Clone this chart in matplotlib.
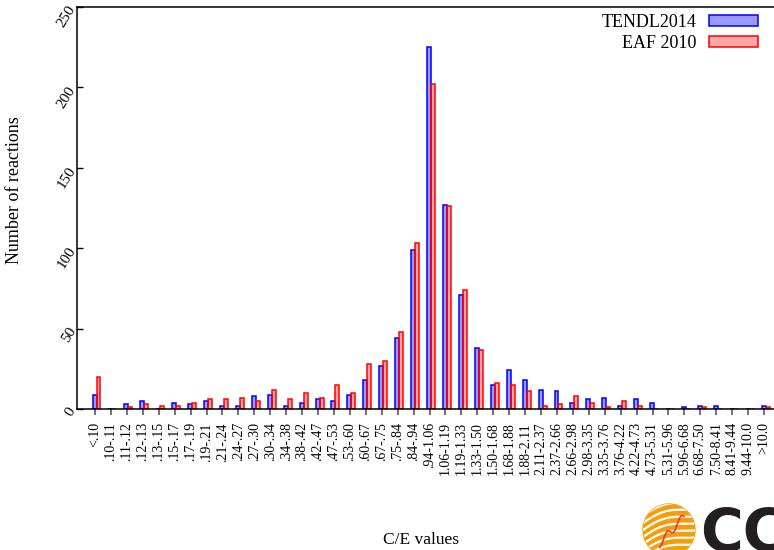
import matplotlib.pyplot as plt
import numpy as np
from matplotlib.patches import Circle

plt.rcParams['font.family'] = ['Liberation Serif', 'DejaVu Serif']

bins = ['<.10', '.10-.11', '.11-.12', '.12-.13', '.13-.15', '.15-.17', '.17-.19',
        '.19-.21', '.21-.24', '.24-.27', '.27-.30', '.30-.34', '.34-.38', '.38-.42',
        '.42-.47', '.47-.53', '.53-.60', '.60-.67', '.67-.75', '.75-.84', '.84-.94',
        '.94-1.06', '1.06-1.19', '1.19-1.33', '1.33-1.50', '1.50-1.68', '1.68-1.88',
        '1.88-2.11', '2.11-2.37', '2.37-2.66', '2.66-2.98', '2.98-3.35', '3.35-3.76',
        '3.76-4.22', '4.22-4.73', '4.73-5.31', '5.31-5.96', '5.96-6.68', '6.68-7.50',
        '7.50-8.41', '8.41-9.44', '9.44-10.0', '>10.0']
tendl = [9, 0, 3, 5, 0, 4, 3, 5, 2, 2, 8, 9, 2, 4, 6, 5, 9, 18, 27, 44, 99,
         225, 127, 71, 38, 15, 24, 18, 12, 11, 4, 6, 7, 2, 6, 4, 0, 1, 2, 2, 0, 0, 2]
eaf = [20, 0, 1, 3, 2, 2, 4, 6, 6, 7, 5, 12, 6, 10, 7, 15, 10, 28, 30, 48, 103,
       202, 126, 74, 37, 16, 15, 11, 2, 3, 8, 4, 1, 5, 2, 0, 0, 0, 1, 0, 0, 0, 1]
yticks = [0, 50, 100, 150, 200, 250]

fig = plt.figure(figsize=(7.74, 5.5), dpi=100)
ax = fig.add_axes([77/774, 1 - 409/550, 703/774, 402/550])

x = np.arange(len(bins))
w = 0.25
ax.bar(x - 0.03, tendl, w, facecolor=(0, 0, 1, 0.4), edgecolor='blue',
       linewidth=1.1, label='TENDL2014')
ax.bar(x + 0.22, eaf, w, facecolor=(1, 0, 0, 0.35), edgecolor='red',
       linewidth=1.1, label='EAF 2010')

ax.set_xlim(-1.13, 43)
ax.set_ylim(0, 250)
ax.set_xticks(x)
ax.set_xticklabels(bins, rotation=90, ha='center', va='top', fontsize=10)
ax.tick_params(axis='x', direction='out', length=4.5, width=1.2, color='0.35', pad=5)
ax.set_yticks(yticks)
ax.set_yticklabels([str(v) for v in yticks], rotation=58, rotation_mode='anchor',
                   ha='right', va='center', fontsize=11)
ax.tick_params(axis='y', direction='in', length=4, width=1, pad=3)
for s in ax.spines.values():
    s.set_linewidth(1.1)

fig.text(15/774, 1 - 190/550, 'Number of reactions', rotation=90,
         ha='center', va='center', fontsize=13)
fig.text(421/774, 1 - 540/550, 'C/E values', ha='center', va='center', fontsize=12.5)

ax.legend(loc='upper right', bbox_to_anchor=(758/774, 1 - 14/550),
          bbox_transform=fig.transFigure, frameon=False, markerfirst=False,
          fontsize=13, handlelength=2.7, handleheight=0.55, handletextpad=0.7,
          borderpad=0, borderaxespad=0, labelspacing=0.2)

# logo in the lower right corner
lg = fig.add_axes([600/774, 0, 174/774, 70/550])
lg.set_xlim(600, 774)
lg.set_ylim(0, 70)
lg.set_aspect('equal')
lg.axis('off')
globe = Circle((669, 20), 26, color='#f59d0a', zorder=1)
lg.add_patch(globe)
for off in range(-34, 40, 7):
    t = np.linspace(600, 720, 60)
    ln, = lg.plot(t, 0.35 * (t - 669) + 20 + off + 5 * np.sin((t - 640) / 14),
                  color='white', lw=1.6, zorder=2)
    ln.set_clip_path(globe)
t = np.linspace(660, 684, 40)
zz, = lg.plot(t, 20 + 1.1 * (t - 672) + 4 * np.sin(t / 2.2), color='#e8413c',
              lw=1.3, zorder=3)
zz.set_clip_path(globe)
lg.text(700, -13, 'CC', fontsize=42, fontweight='bold', family='DejaVu Sans',
        color='#231f20', ha='left', va='bottom')

plt.savefig('out.png', dpi=100)
